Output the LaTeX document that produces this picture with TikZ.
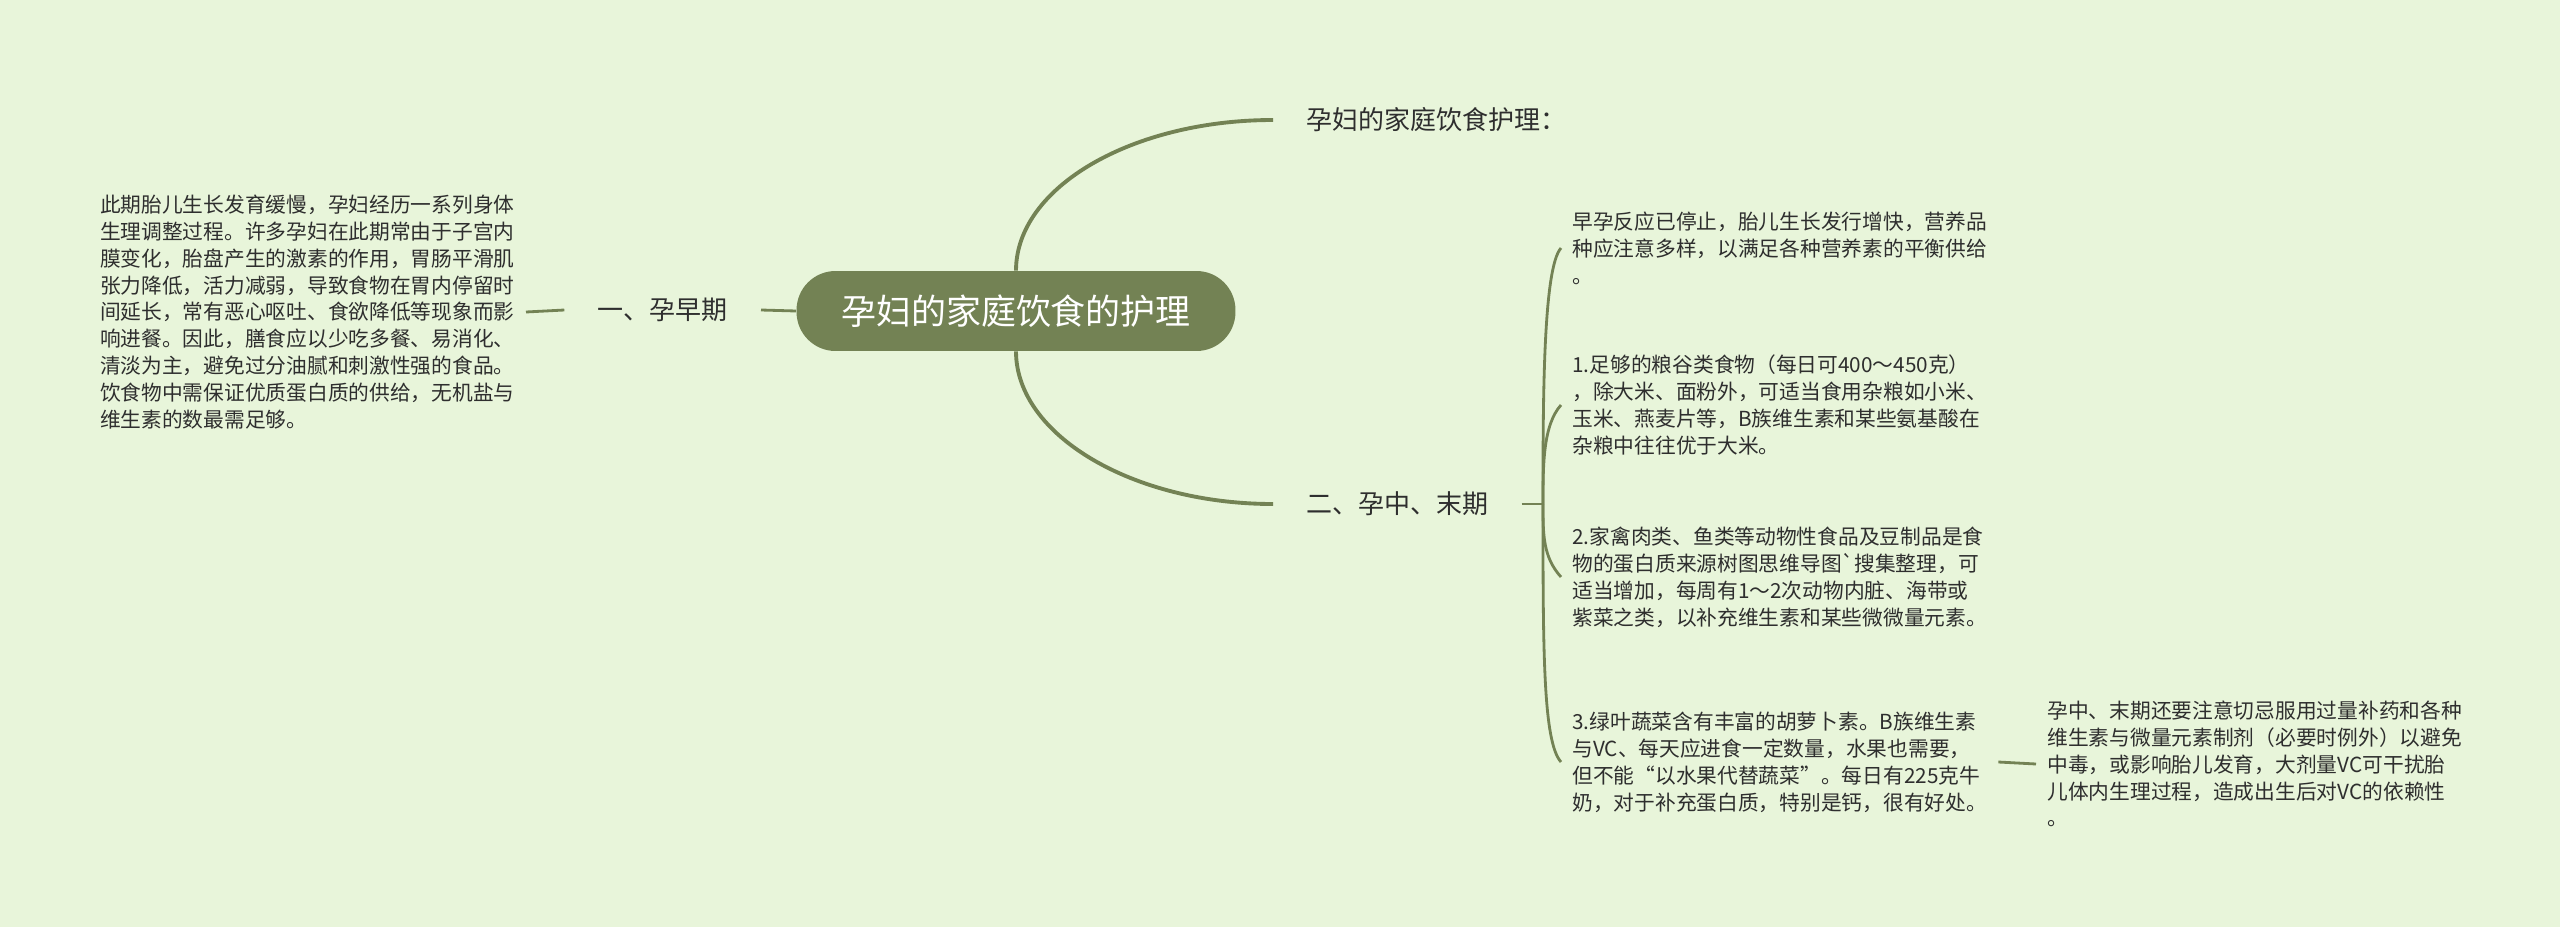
\documentclass[tikz,border=0pt]{standalone}
\usepackage{fontspec}
\setmainfont{Noto Sans CJK SC}
\definecolor{bgpale}{HTML}{E8F5DA}
\definecolor{olive}{HTML}{738254}
\definecolor{txtdark}{HTML}{2E2E2E}
\tikzset{
  rootbox/.style={fill=olive, text=white, rounded corners=0.78cm, minimum width=8.78cm,
    minimum height=1.6cm, inner sep=0pt, font=\fontsize{19.9pt}{24pt}\selectfont},
  branchtxt/.style={text=txtdark, inner xsep=0.66cm, inner ysep=0pt,
    font=\fontsize{14.8pt}{18pt}\selectfont},
  leaftxt/.style={text=txtdark, align=left, inner xsep=0.22cm, inner ysep=0pt,
    font=\fontsize{11.8pt}{15.3pt}\selectfont},
  mainline/.style={draw=olive, line width=2.2pt},
  thinline/.style={draw=olive, line width=1.6pt}
}
\begin{document}
\begin{tikzpicture}[x=0.02cm, y=-0.02cm]
            \fill[bgpale] (0,0) rectangle (2560,927);
            \useasboundingbox (0,0) rectangle (2560,927);
            % centre and first level
            \node[rootbox] (root) at (1016,311) {孕妇的家庭饮食的护理};
            \node[branchtxt, anchor=west] (top) at (1273,120) {孕妇的家庭饮食护理：};
            \node[branchtxt, anchor=east] (early) at (761,310) {一、孕早期};
            \node[branchtxt, anchor=west] (late) at (1273,504) {二、孕中、末期};
            \draw[mainline] (root.north) .. controls +(0,-84) and +(-140,0) .. (top.west);
            \draw[mainline] (root.south) .. controls +(0,84) and +(-140,0) .. (late.west);
            \draw[thinline] (root.west) -- (early.east);
            % early stage text
            \node[leaftxt, anchor=east] (earlytxt) at (526,312) {此期胎儿生长发育缓慢，孕妇经历一系列身体\\生理调整过程。许多孕妇在此期常由于子宫内\\膜变化，胎盘产生的激素的作用，胃肠平滑肌\\张力降低，活力减弱，导致食物在胃内停留时\\间延长，常有恶心呕吐、食欲降低等现象而影\\响进餐。因此，膳食应以少吃多餐、易消化、\\清淡为主，避免过分油腻和刺激性强的食品。\\饮食物中需保证优质蛋白质的供给，无机盐与\\维生素的数最需足够。};
            \draw[thinline] (early.west) -- (earlytxt.east);
            % middle and late stage items
            \coordinate (fork) at (1543,504);
            \node[leaftxt, anchor=west] (item0) at (1561,248) {早孕反应已停止，胎儿生长发行增快，营养品\\种应注意多样，以满足各种营养素的平衡供给\\。};
            \node[leaftxt, anchor=west] (item1) at (1561,405) {1.足够的粮谷类食物（每日可400～450克）\\，除大米、面粉外，可适当食用杂粮如小米、\\玉米、燕麦片等，B族维生素和某些氨基酸在\\杂粮中往往优于大米。};
            \node[leaftxt, anchor=west] (item2) at (1561,577) {2.家禽肉类、鱼类等动物性食品及豆制品是食\\物的蛋白质来源树图思维导图\textasciigrave 搜集整理，可\\适当增加，每周有1～2次动物内脏、海带或\\紫菜之类，以补充维生素和某些微微量元素。};
            \node[leaftxt, anchor=west] (item3) at (1561,762) {3.绿叶蔬菜含有丰富的胡萝卜素。B族维生素\\与VC、每天应进食一定数量，水果也需要，\\但不能“以水果代替蔬菜”。每日有225克牛\\奶，对于补充蛋白质，特别是钙，很有好处。};
            \node[leaftxt, anchor=west] (note) at (2036,764) {孕中、末期还要注意切忌服用过量补药和各种\\维生素与微量元素制剂（必要时例外）以避免\\中毒，或影响胎儿发育，大剂量VC可干扰胎\\儿体内生理过程，造成出生后对VC的依赖性\\。};
            \draw[thinline] (late.east) -- (fork);
            \draw[thinline] (fork) .. controls (1543,402) and (1543,268) .. (item0.west);
            \draw[thinline] (fork) .. controls (1543,465) and (1543,425) .. (item1.west);
            \draw[thinline] (fork) .. controls (1543,535) and (1543,557) .. (item2.west);
            \draw[thinline] (fork) .. controls (1543,650) and (1543,742) .. (item3.west);
            \draw[thinline] (item3.east) -- (note.west);
        \end{tikzpicture}
\end{document}
